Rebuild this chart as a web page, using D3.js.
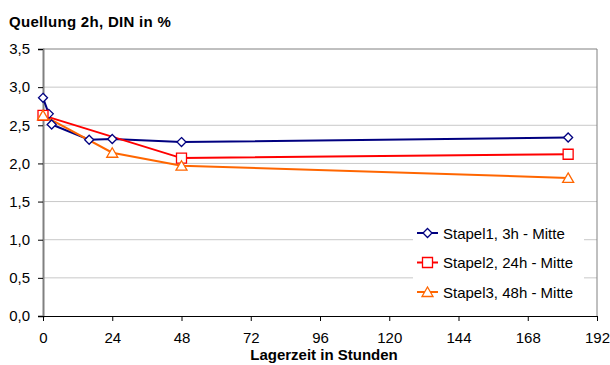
<!DOCTYPE html>
<html><head><meta charset="utf-8">
<script src="https://cdn.jsdelivr.net/npm/d3@7"></script>
<style>body{margin:0;background:#fff;} text{font-family:Arial,"Liberation Sans",sans-serif;}</style>
</head><body><svg id="c" width="610" height="365"></svg>
<script>
const seriesNames = ["Stapel1, 3h - Mitte", "Stapel2, 24h - Mitte", "Stapel3, 48h - Mitte"];
const s1Hours = [0, 2, 3, 16, 24, 48, 182];
const s1Values = [2.86, 2.65, 2.51, 2.31, 2.32, 2.28, 2.34];
const s2Hours = [0, 48, 182];
const s2Values = [2.63, 2.07, 2.12];
const s3Hours = [0, 24, 48, 182];
const s3Values = [2.63, 2.14, 1.97, 1.81];
const xTicks = [0, 24, 48, 72, 96, 120, 144, 168, 192];
const yTicks = [0, 0.5, 1, 1.5, 2, 2.5, 3, 3.5];
const colors = ["#000080", "#ff0000", "#ff6600"];
const markers = ["diamond", "square", "triangle"];

const svg = d3.select("#c");
const L = 43, R = 597, T = 49, B = 316;
const x = d3.scaleLinear().domain([0, 192]).range([L, R]);
const y = d3.scaleLinear().domain([0, 3.5]).range([B, T]);
const fmt = d => d.toFixed(1).replace(".", ",");

// gridlines
svg.append("g").selectAll("line").data(yTicks.filter(d => d > 0 && d < 3.5)).join("line")
  .attr("x1", L).attr("x2", R).attr("y1", d => y(d)).attr("y2", d => y(d))
  .attr("stroke", "#c8c8c8").attr("stroke-width", 1);
// frame top/right
svg.append("line").attr("x1", L).attr("x2", R).attr("y1", y(3.5)).attr("y2", y(3.5)).attr("stroke", "#808080");
svg.append("line").attr("x1", R).attr("x2", R).attr("y1", T).attr("y2", B).attr("stroke", "#808080");

// axes
const yAxis = svg.append("g").attr("transform", `translate(${L},0)`)
  .call(d3.axisLeft(y).tickValues(yTicks).tickFormat(fmt).tickSize(5).tickPadding(8));
yAxis.select(".domain").attr("stroke", "#808080").attr("stroke-width", 2);
yAxis.selectAll(".tick line").attr("stroke", "#000");
yAxis.selectAll("text").attr("font-size", 15).attr("fill", "#000");

const xAxis = svg.append("g").attr("transform", `translate(0,${B})`)
  .call(d3.axisBottom(x).tickValues(xTicks).tickSize(5).tickPadding(11));
xAxis.select(".domain").attr("stroke", "#000");
xAxis.selectAll("text").attr("font-size", 15).attr("fill", "#000");

// series
const data = [
  s1Hours.map((h, i) => [h, s1Values[i]]),
  s2Hours.map((h, i) => [h, s2Values[i]]),
  s3Hours.map((h, i) => [h, s3Values[i]])
];
const line = d3.line().x(d => x(d[0])).y(d => y(d[1]));
function markerPath(type) {
  if (type === "diamond") return "M0,-4.5L4.5,0L0,4.5L-4.5,0Z";
  if (type === "square") return "M-5,-5H5V5H-5Z";
  return "M0,-5L5.5,4.5H-5.5Z";
}
data.forEach((d, i) => {
  svg.append("path").datum(d).attr("d", line).attr("fill", "none")
    .attr("stroke", colors[i]).attr("stroke-width", 2);
});
data.forEach((d, i) => {
  svg.append("g").selectAll("path").data(d).join("path")
    .attr("transform", p => `translate(${x(p[0])},${y(p[1])})`)
    .attr("d", markerPath(markers[i]))
    .attr("fill", "#fff").attr("stroke", colors[i]).attr("stroke-width", 1.3);
});

// legend
const lg = svg.append("g");
lg.append("rect").attr("x", 413).attr("y", 218).attr("width", 171).attr("height", 90).attr("fill", "#fff");
seriesNames.forEach((n, i) => {
  const yy = 233 + i * 29.5;
  lg.append("line").attr("x1", 417).attr("x2", 438).attr("y1", yy).attr("y2", yy)
    .attr("stroke", colors[i]).attr("stroke-width", 2);
  lg.append("path").attr("transform", `translate(427.5,${yy})`).attr("d", markerPath(markers[i]))
    .attr("fill", "#fff").attr("stroke", colors[i]).attr("stroke-width", 1.3);
  lg.append("text").attr("x", 443).attr("y", yy + 5.5).attr("font-size", 15).text(n);
});

// titles
svg.append("text").attr("x", 9).attr("y", 27).attr("font-size", 15).attr("font-weight", "bold")
  .attr("letter-spacing", 0.3).text("Quellung 2h, DIN in %");
svg.append("text").attr("x", 324).attr("y", 360).attr("text-anchor", "middle").attr("font-size", 15).attr("font-weight", "bold").text("Lagerzeit in Stunden");
</script></body></html>
